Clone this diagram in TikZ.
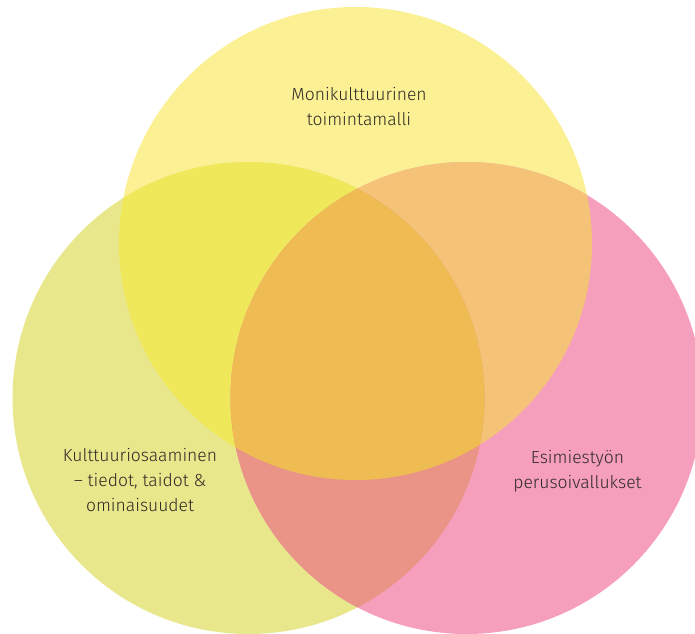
\documentclass[tikz,border=0pt]{standalone}
\usepackage{fontspec}
\setmainfont{Fira Sans Light}
\definecolor{cT}{HTML}{FBF194}
\definecolor{cL}{HTML}{E9E78C}
\definecolor{cR}{HTML}{F59FBC}
\definecolor{cTL}{HTML}{F0E85B}
\definecolor{cTR}{HTML}{F5C377}
\definecolor{cLR}{HTML}{E99486}
\definecolor{cA}{HTML}{EFBC53}
\definecolor{txt}{HTML}{2E2A26}
\begin{document}
\begin{tikzpicture}[x=1pt,y=-1pt,
  lbl/.style={text=txt,font=\fontsize{17.5}{25}\selectfont,align=center,inner sep=0pt}]
\useasboundingbox (0,0) rectangle (695,633);
\clip (0,0) rectangle (695,633);
\def\pT{(355.5,243.5) circle (236.5)}
\def\pL{(248.5,398) circle (236)}
\def\pR{(466.5,398) circle (236)}
\fill[cT] \pT;
\fill[cL] \pL;
\fill[cR] \pR;
\begin{scope}\clip \pT; \fill[cTL] \pL; \fill[cTR] \pR; \end{scope}
\begin{scope}\clip \pL; \fill[cLR] \pR; \end{scope}
\begin{scope}\clip \pT; \clip \pL; \fill[cA] \pR; \end{scope}
\node[lbl] (top) at (359,107) {Monikulttuurinen\\toimintamalli};
\node[lbl] (left) at (140,480) {Kulttuuriosaaminen\\– tiedot, taidot \&\\ominaisuudet};
\node[lbl] (right) at (577.5,471) {Esimiestyön\\perusoivallukset};
\end{tikzpicture}
\end{document}
